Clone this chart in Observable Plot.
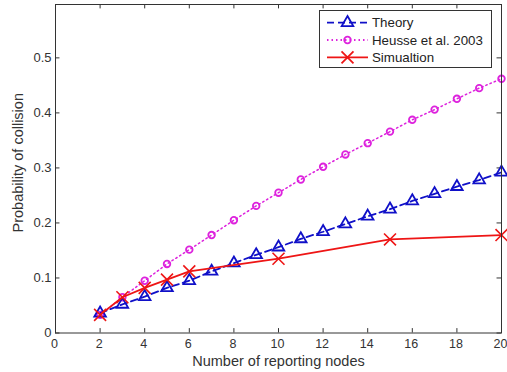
<!DOCTYPE html>
<html>
<head>
<meta charset="utf-8">
<script src="https://cdn.jsdelivr.net/npm/d3@7"></script>
<script src="https://cdn.jsdelivr.net/npm/@observablehq/plot@0.6"></script>
<style>
  html, body { margin: 0; padding: 0; background: #fff; }
  #chart { position: relative; width: 507px; height: 372px; }
  #legend { position: absolute; left: 0; top: 0; }
</style>
</head>
<body>
<div id="chart"></div>
<script>
// ---- data ----
const nodes = [2,3,4,5,6,7,8,9,10,11,12,13,14,15,16,17,18,19,20];
const theory = [0.036,0.052,0.066,0.082,0.095,0.112,0.127,0.142,0.156,0.171,0.184,0.198,0.212,0.225,0.240,0.253,0.266,0.278,0.292];
const heusse = [0.033,0.065,0.095,0.1255,0.1515,0.178,0.205,0.231,0.255,0.279,0.302,0.3245,0.345,0.366,0.3875,0.406,0.4256,0.445,0.462];
const simNodes = [2,3,4,5,6,10,15,20];
const simulation = [0.033,0.065,0.082,0.097,0.112,0.135,0.170,0.178];
const seriesNames = ["Theory", "Heusse et al. 2003", "Simualtion"];
const xTicks = [0,2,4,6,8,10,12,14,16,18,20];
const yTicks = [0,0.1,0.2,0.3,0.4,0.5];

const cBlue = "#1010c8", cMag = "#dd22dd", cRed = "#ee1515";
const theoryData = nodes.map((n,i) => ({n, p: theory[i]}));
const heusseData = nodes.map((n,i) => ({n, p: heusse[i]}));
const simData = simNodes.map((n,i) => ({n, p: simulation[i]}));

const X0 = 0, X1 = 20, Y0 = 0, Y1 = 0.597;
const tx = 0.2, ty = 0.008;
const font = "Liberation Sans, Arial, sans-serif";
const rTri = 4.3, rCirc = 3.3, rX = 5.5;

const plot = Plot.plot({
  width: 507, height: 372,
  marginLeft: 55, marginRight: 6, marginTop: 4, marginBottom: 39.5,
  style: {fontFamily: font, fontSize: "13px", color: "#333", background: "#fff"},
  x: {domain: [X0, X1], ticks: xTicks, label: null},
  y: {domain: [Y0, Y1], ticks: yTicks, label: null},
  marks: [
    Plot.axisX({ticks: xTicks, tickSize: 0, tickPadding: 6, fontSize: 12.5, fill: "#333", dx: -1, tickFormat: d => String(d)}),
    Plot.axisY({ticks: yTicks, tickSize: 0, tickPadding: 4, fontSize: 13, fill: "#333", tickFormat: d => d === 0 ? "0" : d.toFixed(1)}),
    Plot.ruleX(xTicks, {x: d => d, y1: Y0, y2: Y0 + ty, stroke: "#333"}),
    Plot.ruleX(xTicks, {x: d => d, y1: Y1, y2: Y1 - ty, stroke: "#333"}),
    Plot.ruleY(yTicks, {y: d => d, x1: X0, x2: X0 + tx, stroke: "#333"}),
    Plot.ruleY(yTicks, {y: d => d, x1: X1, x2: X1 - tx, stroke: "#333"}),
    Plot.line(heusseData, {x: "n", y: "p", stroke: cMag, strokeWidth: 1.5, strokeDasharray: "1.5 3"}),
    Plot.dot(heusseData, {x: "n", y: "p", r: rCirc, stroke: cMag, strokeWidth: 1.8, fill: "none"}),
    Plot.line(theoryData, {x: "n", y: "p", stroke: cBlue, strokeWidth: 1.8, strokeDasharray: "7 4"}),
    Plot.dot(theoryData, {x: "n", y: "p", symbol: "triangle", r: rTri, stroke: cBlue, strokeWidth: 1.8, fill: "none"}),
    Plot.line(simData, {x: "n", y: "p", stroke: cRed, strokeWidth: 1.8}),
    Plot.dot(simData, {x: "n", y: "p", symbol: "times", r: rX, stroke: cRed, strokeWidth: 1.6}),
    Plot.frame({stroke: "#333"}),
    Plot.text(["Number of reporting nodes"], {frameAnchor: "bottom", dy: 22.5, text: d => d, fontSize: 14.5, fill: "#333", lineAnchor: "top", textAnchor: "middle"}),
    Plot.text(["Probability of collision"], {frameAnchor: "left", dx: -37, dy: -6, rotate: -90, text: d => d, fontSize: 14.5, fill: "#333", textAnchor: "middle"})
  ]
});
const chart = document.getElementById("chart");
chart.appendChild(plot);

// ---- legend (overlay) ----
const lsvg = d3.select(chart).append("svg").attr("id", "legend")
  .attr("width", 507).attr("height", 372);
lsvg.append("rect").attr("x", 319.5).attr("y", 10.5).attr("width", 172).attr("height", 57)
  .attr("fill", "#fff").attr("stroke", "#333").attr("stroke-width", 1);
const rows = [22.7, 40, 57.3];
const styles = [
  {stroke: cBlue, dash: "7 4", sym: d3.symbolTriangle, size: Math.PI*rTri*rTri},
  {stroke: cMag, dash: "1.5 3", sym: d3.symbolCircle, size: Math.PI*rCirc*rCirc},
  {stroke: cRed, dash: null, sym: d3.symbolTimes, size: Math.PI*rX*rX}
];
seriesNames.forEach((name, i) => {
  const y = rows[i], s = styles[i];
  const ln = lsvg.append("line").attr("x1", 327).attr("x2", 368).attr("y1", y).attr("y2", y)
    .attr("stroke", s.stroke).attr("stroke-width", 1.8);
  if (s.dash) ln.attr("stroke-dasharray", s.dash);
  lsvg.append("path").attr("d", d3.symbol(s.sym, s.size)()).attr("transform", `translate(347.5,${y})`)
    .attr("fill", "none").attr("stroke", s.stroke).attr("stroke-width", 1.8);
  lsvg.append("text").attr("x", 372).attr("y", y).attr("dy", "0.35em")
    .attr("font-family", font).attr("font-size", 13.3).attr("fill", "#222")
    .attr("text-anchor", "start").text(name);
});
</script>
</body>
</html>
